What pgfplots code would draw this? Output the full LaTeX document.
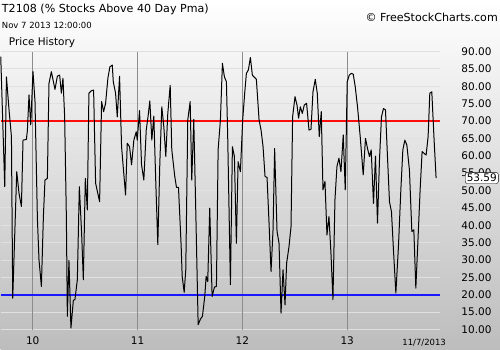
\documentclass[border=0pt]{standalone}
\usepackage{fontspec}
\setmainfont{DejaVu Sans}
\usepackage{pgfplots}
\pgfplotsset{compat=1.18}
\begin{document}
\begin{tikzpicture}[x=1pt,y=1pt]
\shade[top color=white, bottom color=black!26] (0,0) rectangle (500,350);
\node[anchor=west, inner sep=0] at (1,341) {\fontsize{11.1}{13}\selectfont T2108 (\% Stocks Above 40 Day Pma)};
\node[anchor=west, inner sep=0] at (1,325) {\fontsize{8.5}{10}\selectfont Nov 7 2013 12:00:00};
\node[anchor=west, inner sep=0] at (8,307) {\fontsize{10.5}{12}\selectfont Price History};
\node[anchor=east, inner sep=0] at (498,333) {\fontsize{11.1}{13}\selectfont \textcopyright{} FreeStockCharts.com};
\begin{axis}[
 at={(0pt,20pt)}, anchor=south west,
 scale only axis, width=440pt, height=278.4pt,
 xmin=0, xmax=440, ymin=10, ymax=90,
 clip=false,
 axis line style={draw=none},
 major tick length=0pt,
 xtick={32,137,242,347}, xticklabels={10,11,12,13},
 extra x ticks={32,137,242,347}, extra x tick labels={},
 extra x tick style={grid=major, major grid style={draw=black!45, line width=0.8pt}},
 ytick={10,15,...,90},
 ymajorgrids, major grid style={draw=white!88!black, line width=0.8pt},
 yticklabel pos=right,
 yticklabel style={anchor=east, xshift=55pt, font=\fontsize{10.5}{12}\selectfont},
 xticklabel style={font=\fontsize{10.5}{12}\selectfont, yshift=-4pt},
 y tick label style={/pgf/number format/.cd, fixed, fixed zerofill, precision=2, assume math mode=true},
 /pgf/number format/assume math mode=true,
]
\addplot[red!95!white, line width=1.5pt] coordinates {(0,70) (440,70)};
\addplot[blue!90!white, line width=1.5pt] coordinates {(0,20) (440,20)};
\addplot[black, line width=1.0pt, line join=round] coordinates {
(0,88.5) (4.0,51.1) (5.7,82.7) (8.3,73.2) (10.7,65.5) (12.0,19.0) (16.0,55.4) (18.3,49.2) (20.7,45.4)
(22.3,64.5) (25.7,64.7) (26.7,67.4) (28.3,77.5) (30.0,68.9) (32.3,84.2) (34.3,75.6) (36.7,42.0)
(38.3,30.1) (40.7,22.4) (42.7,42.5) (44.3,53.0) (46.7,53.5) (48.3,80.8) (50.7,84.2) (54.3,79.1)
(56.7,82.9) (59.0,83.2) (60.7,78.0) (62.3,82.3) (64.0,71.2) (65.7,42.5) (66.7,13.8) (68.3,29.9)
(70.3,10.4) (72.7,18.4) (74.3,18.6) (76.7,24.3) (78.7,51.1) (81.0,37.7) (82.7,24.3) (84.7,53.5)
(86.7,44.4) (88.3,78.0) (90.7,78.7) (93.0,78.9) (95.0,52.1) (99.0,46.8) (101.0,75.6) (103.0,72.7)
(105.0,75.1) (107.3,82.3) (109.3,85.6) (111.7,86.1)
(112.7,81.3) (115.0,78.0) (116.7,71.2) (119.0,82.9) (121.0,62.6) (125.0,48.7) (126.7,63.6)
(129.0,62.6) (131.0,57.4) (133.3,64.5) (135.7,66.9) (136.7,64.5) (139.0,73.0) (141.0,57.4)
(143.3,53.0) (145.7,67.4) (147.7,71.7) (149.3,75.8) (151.3,64.5) (153.3,71.4) (155.3,52.1)
(157.3,34.4) (159.3,57.8) (161.3,74.1) (163.3,68.4) (165.3,59.8) (167.3,72.2) (169.7,80.3)
(171.3,61.7) (174.3,54.0) (176.0,50.9) (178.0,50.9) (180.7,33.9) (181.7,25.3) (183.7,20.7)
(185.3,27.2) (187.3,70.3) (189.7,75.6) (191.3,53.0) (193.3,70.5) (195.3,44.4) (197.7,11.4)
(200.0,13.0) (202.0,13.8) (204.3,19.5) (205.7,25.3) (207.3,23.8) (209.3,44.9) (211.7,19.5)
(214.0,22.2) (216.0,22.4) (217.7,61.7) (220.0,70.3) (222.0,86.6)
(224.0,82.7) (226.0,81.3) (227.3,65.5) (230.0,22.9) (232.0,62.6) (234.0,59.8) (236.0,34.8)
(237.7,58.3) (240.0,55.4) (242.3,70.3) (244.3,78.0) (246.0,83.7) (248.0,84.7) (250.0,88.3)
(252.0,83.2) (254.3,82.5) (256.0,82.0) (258.7,70.3) (260.7,67.4) (262.7,62.6) (264.7,54.0)
(266.7,53.8) (268.7,40.6) (270.7,26.7) (272.7,38.7) (274.3,62.1) (276.7,38.2) (278.7,34.8)
(280.7,14.7) (282.7,27.2) (284.7,17.1) (286.3,29.1) (288.7,33.9) (290.7,39.6) (292.3,71.2)
(294.7,77.0) (296.7,74.6) (298.3,70.8) (300.0,74.1) (302.0,72.2) (304.0,74.6) (306.3,75.1)
(308.7,67.4) (310.7,67.6) (312.7,78.4) (315.0,82.0) (317.0,78.0) (319.0,65.5) (321.0,72.7)
(322.7,50.2) (324.7,52.6) (326.7,37.2) (328.7,42.5) (330.7,32.0) (332.7,18.6)
(334.7,47.3) (336.7,56.9) (338.7,59.3) (340.7,55.4) (343.0,66.0) (345.0,50.2) (347.0,81.3)
(349.0,83.2) (351.0,83.7) (353.0,83.5) (355.0,79.9) (357.3,74.1) (360.0,65.5) (363.0,54.5)
(365.3,65.0) (367.3,62.1) (369.3,59.8) (371.0,61.7) (373.3,46.3) (375.3,59.9) (377.3,40.6)
(379.3,58.8) (381.3,71.2) (383.3,73.6) (385.3,73.2) (387.3,59.8) (389.3,46.8) (391.3,43.9)
(393.3,32.9) (395.7,20.5) (398.3,33.9) (400.7,50.2) (402.7,61.7) (404.7,64.5) (406.7,63.1)
(409.3,55.9) (411.7,38.2) (413.7,38.7) (415.7,21.9) (417.7,34.8) (420.0,50.2) (422.0,61.2)
(424.0,60.7) (426.0,60.2) (428.0,65.5) (429.7,78.0) (431.7,78.4) (434.0,64.5) (436.0,53.59)
};
\coordinate (vbox) at (axis cs:498.5,53.59);
\node[font=\fontsize{8.5}{10}\selectfont] at (axis cs:424,{10-13/3.48}) {11/7/2013};
\end{axis}
\node[draw=black, fill=white, rounded corners=2pt, inner sep=1.5pt, anchor=east,
 font=\fontsize{10.5}{12}\selectfont] at (vbox) {53.59};
\end{tikzpicture}
\end{document}
